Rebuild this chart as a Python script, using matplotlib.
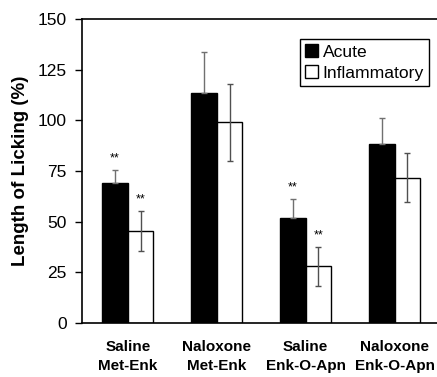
import matplotlib.pyplot as plt
import numpy as np

plt.rcParams['font.family'] = ['Liberation Sans', 'DejaVu Sans']

groups = ["Saline\nMet-Enk", "Naloxone\nMet-Enk", "Saline\nEnk-O-Apn", "Naloxone\nEnk-O-Apn"]
acute = [69, 113.5, 51.7, 88.3]
acute_err = [6.7, 20, 9.5, 13]
inflam = [45.5, 99, 28, 71.7]
inflam_err = [10, 19, 9.6, 12]
stars_acute = ["**", "", "**", ""]
stars_inflam = ["**", "", "**", ""]

fig = plt.figure(figsize=(4.37, 3.77), dpi=100)
ax = fig.add_axes([0.1876, 0.1432, 0.817, 0.8064])

x = np.arange(len(groups))
w = 0.288
ax.bar(x - w / 2, acute, w, color="black", edgecolor="black", linewidth=1, label="Acute", zorder=2)
ax.bar(x + w / 2, inflam, w, color="white", edgecolor="black", linewidth=1, label="Inflammatory", zorder=2)

ax.errorbar(x - w / 2, acute, yerr=[np.zeros(len(acute)), acute_err], fmt="none",
            ecolor="#707070", elinewidth=1, capsize=2.5, capthick=1, zorder=3)
ax.errorbar(x + w / 2, inflam, yerr=inflam_err, fmt="none",
            ecolor="#505050", elinewidth=1, capsize=2.5, capthick=1, zorder=3)

for i in range(len(groups)):
    if stars_acute[i]:
        ax.text(x[i] - w / 2, acute[i] + acute_err[i] + 2.5, stars_acute[i], ha="center", va="bottom", fontsize=9)
    if stars_inflam[i]:
        ax.text(x[i] + w / 2, inflam[i] + inflam_err[i] + 2.5, stars_inflam[i], ha="center", va="bottom", fontsize=9)

ax.set_xlim(-0.515, 3.5)
ax.set_ylim(0, 150)
ax.set_yticks([0, 25, 50, 75, 100, 125, 150])
ax.set_xticks(x)
ax.set_xticklabels(groups, fontweight="bold", fontsize=11, linespacing=1.45)
ax.tick_params(axis="x", length=0, pad=12)
ax.tick_params(axis="y", labelsize=12.5, length=5, width=1, pad=6)
ax.set_ylabel("Length of Licking (%)", fontweight="bold", fontsize=13.5, labelpad=6)

for s in ax.spines.values():
    s.set_linewidth(1.2)

leg = ax.legend(loc="upper right", bbox_to_anchor=(0.972, 0.934), fontsize=12.6,
                frameon=True, fancybox=False, edgecolor="black", framealpha=1,
                handlelength=0.75, handleheight=0.75, handletextpad=0.25,
                borderpad=0.3, labelspacing=0.3, borderaxespad=0)
leg.get_frame().set_linewidth(1)

fig.savefig("out.png", dpi=100)
